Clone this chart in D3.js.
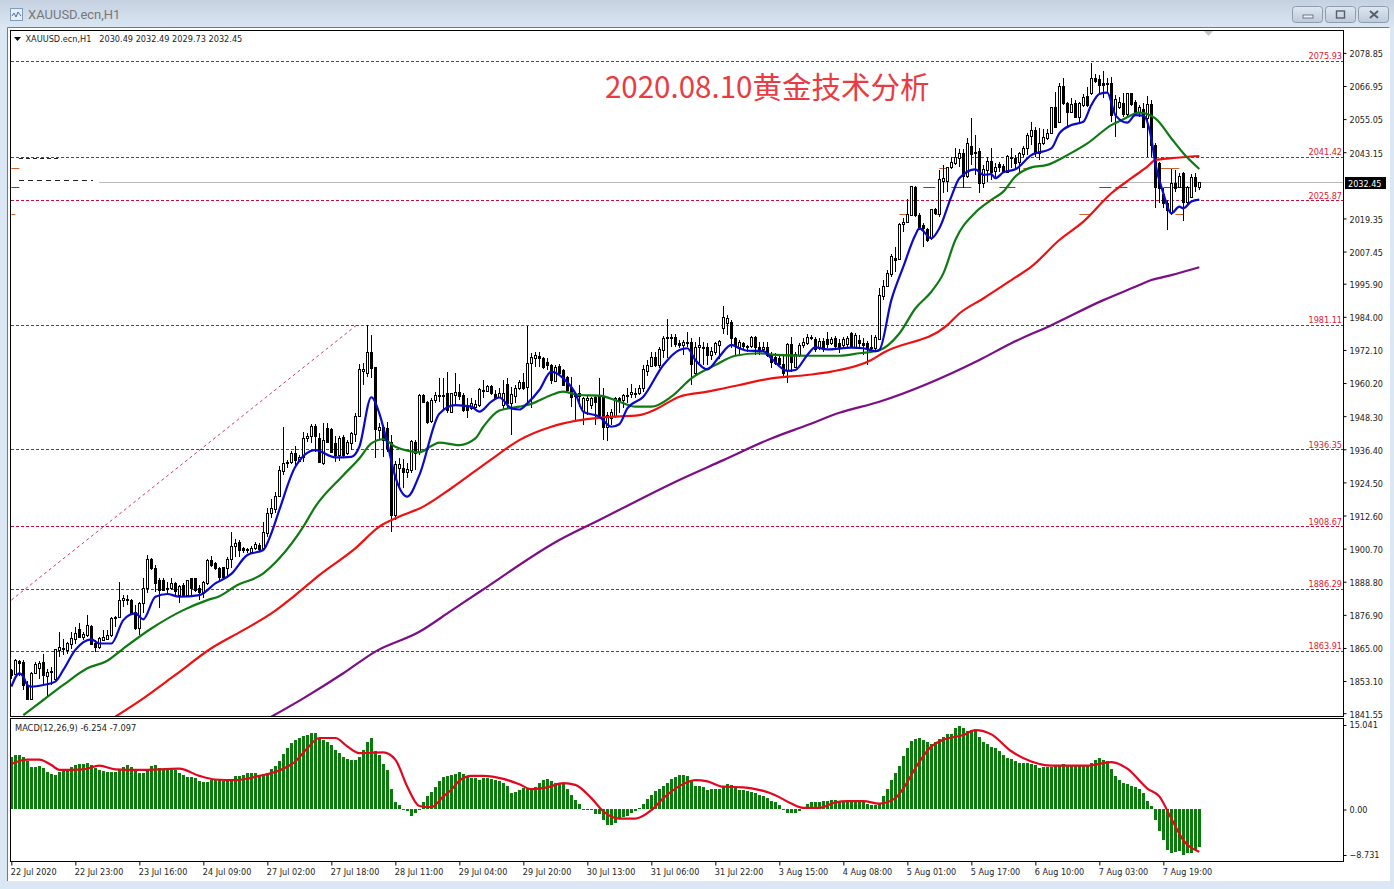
<!DOCTYPE html>
<html><head><meta charset="utf-8"><title>XAUUSD.ecn,H1</title>
<script src="https://cdn.jsdelivr.net/npm/d3@7"></script>
<style>html,body{margin:0;padding:0;background:#dbe7f4;overflow:hidden}svg{display:block}
text{font-family:"DejaVu Sans Condensed","DejaVu Sans",sans-serif}</style></head><body>
<svg id="c" width="1394" height="889"></svg>
<script>
// ---- data ----
const symbolHeader = "XAUUSD.ecn,H1   2030.49 2032.49 2029.73 2032.45";
const windowTitle = "XAUUSD.ecn,H1";
const chartTitle = "2020.08.10黄金技术分析";
const macdHeader = "MACD(12,26,9) -6.254 -7.097";
const lastPrice = 2032.45;
const opens = [1857,1855.8,1860.4,1859.8,1851.6,1846.5,1856,1857.7,1859.8,1854.9,
1856.3,1853.7,1864.3,1865.1,1864.3,1866.4,1868.1,1871.7,1869,1869.6,
1872.9,1866.9,1865.4,1868,1868.1,1869.6,1875.9,1876,1882.4,1882.5,
1882.2,1878,1872,1881,1886.4,1896.8,1893.6,1889.4,1889.4,1886.6,
1886.6,1888.2,1884,1887.6,1884,1890,1890,1886.4,1884.6,1888.2,
1896.6,1895.4,1893.6,1894,1893.6,1896.8,1901.8,1903.2,1900.8,1900.4,
1899.6,1901.1,1902,1901.1,1906.2,1913.4,1914.8,1919.7,1928.7,1931.6,
1932,1935,1932.3,1933.5,1940.3,1941.2,1944.8,1940.3,1931.6,1943.9,
1943.6,1938.8,1934.3,1940.7,1935,1938.8,1941.8,1948.3,1964.6,1963.9,
1971.5,1965.8,1943.3,1944.3,1943.9,1939.1,1912.8,1929.5,1929.5,1928.3,
1929,1939.1,1935.5,1955.9,1953.5,1946.7,1954.1,1955.7,1955.9,1956.5,
1949.9,1956,1957.1,1955.9,1952.3,1951.1,1951.5,1952.3,1957.5,1957.5,
1959.1,1956.2,1955.3,1952.3,1960,1952.9,1955.5,1958.3,1960.7,1958.9,
1967.3,1969.3,1969.9,1969.1,1967.9,1966.7,1961,1966.3,1964.9,1962.2,
1958.9,1956,1955.5,1950,1954.1,1952.3,1955.3,1955.9,1955.3,1944.5,
1947.5,1948.3,1954.7,1954.1,1955.9,1956.3,1956.3,1956.5,1958.3,1964.5,
1966.3,1969.7,1966.7,1972.1,1976.3,1976.6,1976.9,1974.7,1973.9,1974.9,
1975.1,1963.7,1973.3,1973.1,1973,1970.3,1971.5,1973.9,1979.9,1981.7,
1982,1976.3,1973.3,1974.5,1973.5,1973.5,1976.9,1973.1,1972.3,1973.2,
1970.5,1969.7,1969.1,1967,1964.9,1974.2,1966.1,1970.3,1973.9,1974.5,
1976.4,1975.9,1972.7,1975.4,1975.9,1974.7,1976.3,1974.7,1973.9,1974.2,
1978.1,1973.1,1975.5,1974.5,1974.7,1973.1,1972.7,1975.9,1991.5,1995,
1999.4,2005.3,2004.6,2017.3,2018.2,2020.6,2030.5,2020.6,2017,2015.4,
2012.2,2022.6,2020.9,2032.9,2032.9,2037.7,2039.2,2041,2043,2034.6,
2045.4,2043.3,2043.7,2032,2036.8,2040.1,2036.5,2038.8,2038.2,2036.2,
2041.5,2041,2039.8,2042.5,2044.5,2049,2051.1,2042.7,2046.3,2048.1,
2050.2,2059.3,2054.1,2066.9,2060.7,2057.7,2060.7,2055.9,2060.1,2063.3,
2064.3,2070,2069.3,2067.9,2067.9,2067.9,2056.9,2059.3,2060.9,2056.9,
2064.3,2061.3,2057.7,2058.6,2055.3,2060.5,2045.7,2039.1,2028.1,2024.8,
2021.2,2032,2030.5,2035.8,2025.4,2027.2,2034.1,2030.49];
const closes = [1855.3,1860.6,1859.7,1851.7,1846.5,1856.1,1859.1,1859.7,1855.3,1856.4,
1856.9,1864.5,1865.2,1864.5,1866.9,1868.4,1870.5,1869,1870,1873.2,
1866.6,1865.4,1868.4,1869,1869.6,1875.9,1876.2,1882.4,1882.8,1882.2,
1877.4,1872,1881.2,1886.4,1896.8,1893.6,1888.4,1886,1886,1886.4,
1888.2,1885.6,1887.2,1884,1889.4,1886.4,1885.8,1885.2,1888.6,1896.6,
1894.8,1893.6,1890.6,1890.6,1896.8,1901.7,1902.8,1900.2,1900.2,1900.2,
1901.1,1902.3,1900.4,1906.5,1913.6,1915.2,1919.7,1928.9,1931.6,1932,
1935,1932.5,1933.5,1940.3,1941.2,1944.8,1941.2,1931.9,1939.7,1939.1,
1935.5,1934.3,1940.3,1934.3,1939.1,1942.1,1948.3,1965.1,1965.1,1971.5,
1965.5,1943.6,1944.3,1939.7,1936.7,1912.8,1931.1,1931.1,1928.3,1929.2,
1939.5,1935.2,1955.9,1953.5,1946.3,1954.1,1955.9,1955.9,1955.4,1950.5,
1956.5,1957.1,1955.5,1950.5,1950.5,1952.9,1952.7,1958,1957.7,1959.1,
1956.5,1955,1956.5,1956.7,1952.9,1956.2,1958.3,1960.7,1958.3,1967.3,
1969.7,1970.3,1969.1,1965.8,1966.7,1961.3,1966,1963.7,1959.5,1957.7,
1955.3,1955.5,1956.5,1954.7,1955,1954.7,1953.5,1948.7,1944.5,1948.7,
1949.9,1954.7,1954.1,1955.9,1955.7,1957.1,1956.8,1958.3,1965.2,1966.7,
1969.7,1966.7,1972.3,1976.5,1976.9,1976.9,1974.1,1973.9,1975.1,1975.1,
1967,1973.3,1973.7,1973.2,1970.3,1971.7,1974.5,1975.3,1983.8,1983.5,
1976.3,1973.9,1975.1,1973.5,1973.1,1976.9,1973.1,1972.3,1973.2,1970.3,
1967.9,1967.5,1967,1963.7,1974.2,1967.9,1970.6,1973.9,1975.1,1976.6,
1976.6,1972.3,1975.4,1972.3,1974.1,1975.9,1973.5,1973.3,1975.9,1976.3,
1973.1,1977.5,1974.5,1973.9,1972.7,1972.9,1976.6,1991.8,1995,1999.9,
2005.8,2004.4,2017.3,2018.2,2021,2031,2020.6,2016.4,2015.8,2011.6,
2022.6,2021.2,2033.4,2033.8,2037.7,2039.8,2041.3,2042.7,2034.6,2046.6,
2042.5,2042.8,2032,2037,2040.1,2036.2,2038,2037.7,2036.2,2041.8,
2041,2039.4,2042.7,2044.5,2049.3,2051.1,2042.7,2046.3,2048.5,2050.2,
2059.3,2052.1,2066.9,2060.7,2057.7,2060.5,2055.9,2060.7,2063.1,2060.1,
2070,2068.9,2067.3,2067.3,2067.7,2056.5,2062.2,2061.3,2056.9,2064.3,
2060.5,2057.7,2059.3,2052.3,2060.5,2045.7,2030.8,2030.2,2024.8,2022.4,
2032,2030.2,2034.6,2025.4,2030.5,2034.1,2031,2032.45];
const highs = [1857.5,1860.9,1860.5,1860.7,1853,1856.2,1860,1860.4,1863,1857.6,
1858.2,1864.8,1870.6,1868.1,1867.3,1870.8,1872.6,1874.1,1870.8,1876.8,
1873.2,1867.8,1869,1871.4,1871.4,1876.2,1876.5,1888.8,1884,1884,
1882.5,1880.5,1881.6,1890,1898.4,1897.2,1894.8,1890,1890,1888.8,
1890.3,1888.8,1887.6,1888.2,1889.4,1890,1890.3,1887.6,1889,1896.8,
1898,1896,1894.2,1894.2,1897.6,1906.5,1904,1903.8,1901.4,1901.1,
1901.6,1902.9,1902.6,1910.4,1915.2,1918.7,1921.2,1930.4,1944.3,1932.5,
1935.9,1937.6,1934.4,1942.7,1942.1,1945.5,1945.5,1942.1,1945.7,1946,
1943.9,1941,1941,1941.4,1939.7,1942.7,1949.3,1967,1967.3,1981.1,
1977.5,1966,1945.7,1945.1,1946.3,1941.4,1932.3,1933.1,1932.8,1931.6,
1939.7,1939.7,1956.2,1956.2,1953.7,1955,1957.1,1961.9,1962,1964,
1956.8,1963.9,1960,1956.5,1954.7,1954.7,1954.1,1958.3,1961.3,1959.5,
1959.5,1957.7,1958.3,1961.3,1961.9,1958.9,1959.5,1961.3,1963.7,1980.8,
1971.1,1971.5,1971.5,1969.7,1969.1,1967,1966.7,1967,1965.2,1962.8,
1962.2,1957.1,1959.5,1955.1,1955.9,1955.3,1955.9,1961.9,1958.3,1949.9,
1950.7,1955.1,1955.3,1956.3,1958.3,1960,1958.3,1959.5,1966.7,1968.5,
1971.5,1971.5,1973.3,1977.1,1983.2,1977.8,1977.8,1975.7,1975.7,1978.4,
1976.3,1975,1976.9,1975,1974.5,1973,1975.1,1975.7,1987.9,1984.6,
1982.9,1976.9,1975.7,1975.1,1973.9,1977.1,1977.1,1975.1,1975,1975,
1971.5,1970.9,1970.3,1970.3,1974.7,1976.6,1971.3,1974.5,1976.3,1977.8,
1977.5,1976.9,1976.3,1976.3,1978.4,1976.9,1977.1,1975.9,1976.9,1977.1,
1978.7,1978.1,1977.5,1976.3,1975.3,1977.5,1977.3,1994.2,1997.2,2000.8,
2006.6,2009.2,2017.6,2019.4,2026.2,2031,2031,2021.2,2017.6,2015.8,
2022.6,2023,2036.7,2038.5,2038,2041.3,2044.5,2044.2,2044.2,2048.1,
2055.3,2049.3,2044.5,2038.5,2041.5,2044.5,2039.2,2039.8,2038.8,2042.2,
2044.5,2042.2,2043.3,2045.5,2050.2,2054.1,2052.3,2051.7,2051.4,2051.4,
2059.5,2064.9,2067.9,2069.7,2061.3,2062.5,2061.9,2061.3,2063.9,2066.7,
2075.3,2071.3,2070.9,2072.5,2070,2070.3,2063.7,2063,2064.3,2064.6,
2064.6,2062,2060.1,2060.7,2063.4,2061.9,2046.3,2039.7,2030.2,2026,
2037,2036.8,2035.8,2036.2,2031,2035.5,2035.8,2032.49];
const lows = [1853.7,1855.5,1855,1850,1846.5,1846.4,1855.5,1854,1851.7,1847.5,
1851.7,1853,1861.9,1862.4,1863,1864.8,1866.6,1868.4,1867.8,1869,
1866,1863.6,1864.8,1868,1867.8,1869,1872.6,1875.6,1879.8,1880.4,
1877,1871.4,1869.6,1877.4,1884.6,1893,1885.2,1879.2,1885.6,1884,
1885.8,1884,1881.2,1883.6,1883.6,1884,1885,1882.4,1883,1887.6,
1894.2,1893,1888.8,1889.4,1890.6,1893.6,1897.6,1897.6,1899.3,1899.3,
1899.3,1900.2,1900,1900.2,1905,1911.6,1913.4,1919.4,1927.2,1929.5,
1931.1,1930.7,1932,1932,1939.1,1938.5,1935.5,1931.3,1930.7,1938.5,
1935,1931.9,1932.3,1933.5,1934.3,1936.1,1939.1,1948.1,1959.5,1962.5,
1961.9,1933.1,1940,1933.5,1935.5,1906.8,1911,1922.4,1922.4,1925.9,
1927.7,1929,1934.3,1953,1945.5,1946,1952.9,1953.5,1950,1949.3,
1949.5,1952,1954,1949.9,1947.5,1950.5,1950.5,1951.5,1954.7,1957,
1956,1954,1954.7,1950.5,1951.1,1941.5,1952.9,1957.7,1957.7,1953.5,
1951.1,1966,1966,1965.2,1965,1960,1960.4,1963,1959,1956.5,
1951.5,1946.9,1951.7,1945.1,1948.7,1951,1945.1,1948.1,1939.7,1939.5,
1945.1,1947.5,1949.3,1951.1,1952.9,1954.7,1954.7,1955.9,1957.1,1962.8,
1966,1966,1965.5,1969.1,1969.1,1973.3,1973.3,1972.7,1970.3,1973.3,
1959.5,1963.1,1967.3,1966.7,1966.7,1968.5,1970.3,1969,1977.8,1977.4,
1972.7,1970.3,1970.3,1972.1,1971.5,1972.7,1970.3,1970.3,1971.5,1969.7,
1965.5,1966.7,1966,1962.5,1960.3,1964.3,1965.5,1969.7,1972.7,1973.9,
1975.7,1971.5,1972.1,1971.5,1972.7,1973.9,1972.7,1970.9,1972.7,1973.3,
1972.7,1972.7,1973.3,1970.3,1966.7,1972.1,1971.5,1975.7,1990,1994.8,
1998.4,2000.2,2004.4,2014.6,2017.6,2020.3,2020,2015.2,2009.2,2011,
2011.6,2020.6,2020,2028.4,2029,2037,2038.6,2038,2030.2,2033.8,
2038.5,2035,2028.6,2030.2,2032.6,2033.2,2034.4,2036.2,2035.6,2035.8,
2037.4,2036.8,2036.2,2041.5,2042.1,2045.7,2041.3,2040.4,2045.7,2047.5,
2049.9,2051.7,2053.5,2060.1,2052.3,2057.1,2055.3,2054.1,2059.5,2059.5,
2063.7,2067.9,2063.7,2062.5,2064.3,2054.1,2048.7,2058.7,2055.9,2056.3,
2059.9,2056.9,2055.9,2051.7,2041.5,2041.5,2023,2024.8,2023,2015.2,
2020.6,2029,2030.2,2018.5,2024.5,2026.6,2029,2029.73];
// moving averages: [bar, price] pairs
const blueMA = [[0,1851.1],[2,1855.9],[3,1854.7],[4,1851.7],[5,1851.1],[8,1851.7],[11,1852.9],[13,1857.1],[16,1864.3],[20,1868.1],[22,1866.6],[25,1866.6],[28,1875],[31,1877.4],[33,1875.3],[36,1883.4],[39,1884.4],[42,1883.4],[47,1884],[51,1888.2],[55,1891.6],[59,1898.4],[63,1900.2],[65,1906.2],[67,1914.6],[71,1930.1],[76,1936.1],[81,1933.5],[85,1933.7],[87,1937.3],[90,1955.1],[92,1949.3],[94,1938.5],[96,1926.5],[99,1919.4],[102,1927.1],[107,1949.2],[111,1952.3],[115,1951.7],[117,1949.9],[120,1953.5],[122,1955],[125,1951.1],[127,1950.7],[129,1952.9],[132,1957.7],[135,1964.3],[138,1961.9],[141,1956.5],[143,1949.9],[147,1948.1],[150,1944.5],[152,1945.4],[154,1951.1],[158,1955.3],[163,1966.7],[167,1972.1],[169,1972.7],[171,1968.5],[174,1965.1],[177,1969.7],[180,1973.9],[182,1972.7],[184,1971.8],[188,1971.7],[190,1969.1],[194,1964.6],[196,1964.9],[199,1970.3],[201,1973],[204,1972.3],[210,1972.9],[213,1972.7],[216,1971.7],[217,1972.1],[220,1990],[223,2002],[226,2013.4],[227,2015.8],[230,2012.2],[232,2015.8],[235,2027.2],[237,2033.8],[241,2037],[243,2035],[245,2035.3],[246,2033.8],[248,2035.9],[251,2037],[255,2042.1],[260,2044.5],[262,2049.9],[265,2052.9],[268,2054.1],[270,2060.1],[272,2064.1],[274,2064.6],[276,2056.5],[279,2053.8],[281,2056.5],[283,2056.3],[285,2048.1],[286,2039.1],[288,2028.4],[290,2021.2],[292,2023.6],[293,2023],[295,2025.4],[297,2026.1]];
const greenMA = [[3,1840.9],[8,1846.3],[13,1851.7],[19,1857.7],[24,1860.4],[28,1864.8],[35,1872],[43,1878.6],[49,1882.2],[52,1883.6],[56,1887.2],[63,1891.8],[67,1897.2],[73,1908.6],[76,1915.8],[83,1927.1],[87,1933.1],[90,1938.5],[93,1940],[96,1937.3],[99,1935.9],[102,1935.3],[105,1937.6],[107,1938.8],[112,1937.9],[116,1940.3],[118,1944.5],[122,1950.3],[127,1951.7],[130,1952.7],[135,1955.9],[138,1957.1],[142,1955.9],[147,1955.7],[152,1953.5],[156,1951.7],[160,1951.7],[165,1955.3],[170,1961.9],[176,1966.7],[181,1970],[187,1970.9],[191,1970.3],[199,1970],[207,1970],[212,1970.9],[217,1972],[222,1978],[226,1987],[230,1993],[233,1999.6],[236,2011.6],[241,2021.5],[245,2026],[248,2029],[251,2034.4],[255,2037.7],[259,2038.6],[264,2042.1],[269,2046.3],[275,2052.9],[278,2055],[282,2057.4],[286,2055.3],[290,2048.1],[293,2042.8],[297,2037.1]];
const redMA = [[26,1840.3],[33,1846.9],[41,1855.3],[50,1864.9],[58,1871.4],[65,1877.4],[71,1884],[77,1891.2],[86,1900.8],[92,1908.6],[97,1912.2],[103,1915.8],[110,1922.4],[120,1932.8],[127,1939.7],[135,1944.5],[141,1946.6],[148,1947.9],[157,1948.7],[161,1950.7],[167,1955.3],[174,1957.1],[182,1959.5],[190,1961.9],[199,1963.1],[205,1964.3],[215,1968.5],[218,1971.1],[234,1981],[237,1985.2],[243,1990.6],[250,1997.2],[255,2002],[262,2011.6],[268,2018.2],[275,2028.4],[280,2033.8],[284,2038],[286,2040.3],[290,2041],[297,2041.8]];
const purpleMA = [[65,1840.3],[73,1846.9],[83,1855.9],[91,1863.7],[102,1870.8],[110,1878.4],[117,1885.1],[137,1903.8],[147,1911],[167,1925.4],[178,1932.5],[190,1940.3],[199,1945.1],[207,1949.5],[217,1953.5],[242,1968.5],[250,1974.5],[260,1981],[273,1990],[281,1994.8],[285,1997.2],[290,1999],[297,2001.8]];
const levelLines = [2075.93,2041.42,2025.87,1981.11,1936.35,1908.67,1886.29,1863.91];
const trendLine = [[0,1882.2],[86.4,1981.11]];
const priceTicks = [2078.85,2066.95,2055.05,2043.15,2019.35,2007.45,1995.90,1984.00,1972.10,1960.20,1948.30,1936.40,1924.50,1912.60,1900.70,1888.80,1876.90,1865.00,1853.10,1841.55];
const timeTicks = ["22 Jul 2020","22 Jul 23:00","23 Jul 16:00","24 Jul 09:00","27 Jul 02:00","27 Jul 18:00","28 Jul 11:00","29 Jul 04:00","29 Jul 20:00","30 Jul 13:00","31 Jul 06:00","31 Jul 22:00","3 Aug 15:00","4 Aug 08:00","5 Aug 01:00","5 Aug 17:00","6 Aug 10:00","7 Aug 03:00","7 Aug 19:00"];
const macdHist = [8.7,8.9,8.9,8.6,8,7,7,7.2,6.8,6.2,
5.8,5.7,6.1,6.3,6.5,6.9,7.3,7.4,7.5,7.6,
7.3,6.8,6.5,6.3,6.2,6.2,6.2,6.7,7,7.3,
6.9,6.5,5.9,6,6.5,7.1,7.3,6.8,6.7,6.6,
6.5,6.4,5.9,5.6,5.3,5.3,5.1,4.7,4.5,4.5,
4.8,4.8,4.8,4.7,4.7,4.8,5.4,5.5,5.7,5.9,
6,6,5.7,5.8,5.9,6.6,7.2,8,9.2,10.1,
10.9,11.5,11.8,12.1,12.3,12.7,12.7,11.8,11.4,11.1,
10.7,9.8,9.3,8.7,8.3,8.2,8.2,8.6,9.8,11.1,
11.8,9.7,9,7.5,6.5,3.3,1.2,0.6,-0.1,-0.4,
-1.1,-0.7,-0.2,1.1,2.2,2.8,3.6,4.7,5.3,5.5,
5.6,5.8,6.1,5.8,5.3,5.2,5.1,4.9,5.1,5.1,
5,4.8,4.6,4.4,3.8,2.7,2.9,3.2,3.5,3.4,
3.2,3.7,4.4,4.8,5,4.7,4.4,4.4,4.1,3.3,
2.4,1.5,0.9,-0.1,-0.2,-0.2,-0.8,-0.9,-1.8,-2.6,
-2.6,-2.3,-1.7,-1.4,-1.2,-0.7,-0.3,0.2,0.8,1.7,
2.4,3,3.4,3.9,4.3,5,5.3,5.7,5.6,5.4,
4.7,3.9,3.9,3.6,3.2,3.3,3.3,3.3,3.6,4.1,
4,3.6,3.2,3.1,3,2.8,2.6,2.3,2.2,1.9,
1.4,1.1,0.7,-0.1,-0.6,-0.7,-0.6,-0.3,0.2,0.8,
1.1,1.2,1.2,1.3,1.4,1.5,1.5,1.3,1.3,1.3,
1.3,1.3,1.3,1.3,0.8,0.7,0.6,0.9,2.2,3.3,
4.8,5.9,7.2,8.8,10.2,11.3,11.7,11.8,11.4,11.1,
10.8,11.2,11.6,11.9,12.4,12.5,13.5,13.8,13.4,13,
13.1,13.1,11.9,11.1,10.8,10.3,10.1,9.7,9,8.4,
8.3,7.9,7.6,7.6,7.6,7.5,7.3,6.8,6.9,6.9,
6.9,7.1,7.2,7.4,7.3,7.2,7.2,7.2,7.2,7.3,
7.7,8.2,8.4,8.1,7.9,6.7,5.5,4.8,4.3,4.2,
3.9,3.7,3.4,2.7,1.4,0.5,-1.9,-3.6,-5.2,-6.8,
-7.4,-7.1,-7,-7.6,-7.4,-7.3,-6.8,-6.254];
const macdSignal = [[0,7.5],[4,8.2],[7,8.2],[10,7.3],[12,6.5],[18,6.6],[22,7.2],[26,6.6],[32,6.5],[42,6.7],[47,5.5],[51,4.9],[56,4.8],[62,5.5],[67,6.4],[71,7.9],[74,10.1],[77,11.8],[81,11.8],[84,10.4],[87,9.3],[93,9.4],[96,8.2],[99,3.7],[102,0.5],[105,0.3],[108,2.1],[110,3.2],[112,4.7],[115,5.5],[118,5.5],[123,5],[127,4.1],[130,3.3],[134,3.6],[138,4.3],[141,4],[145,1.8],[148,-0.4],[152,-1.6],[156,-1.6],[160,-0.2],[163,1.8],[167,3.8],[171,4.8],[174,4.6],[178,3.7],[183,3.6],[186,3.3],[188,3],[191,2.3],[195,0.9],[198,0.2],[202,0.2],[206,1.1],[209,1.3],[213,1.3],[217,0.9],[221,1.8],[223,3.4],[226,6.8],[230,10.4],[233,11.5],[238,12.3],[241,13.1],[245,12.4],[250,9.6],[255,7.9],[260,7.2],[269,7.2],[275,7.8],[279,6.7],[284,3.4],[287,2.1],[290,-1.6],[293,-5.2],[297,-7.097]];
const macdTicks = [15.041,0,-8.731];
// short pivot fragments: [price, fromBar, toBar, colourIndex]
const pivotDashes = [[2037.3,0,2,0],[2030.5,0,2,1],[2020.95,0,1,0],
[2030.5,228,231,1],[2030.5,235,240,1],[2030.5,247,251,1],[2030.5,272,275,1],[2030.5,276,279,1],[2030.5,288,295,1],
[2037.3,232,234,0],[2037.3,253,255,0],[2037.3,287,292,0],
[2020.95,222,224,0],[2020.95,231,232,0],[2020.95,267,270,0],[2020.95,291,293,0]];
const pivotColors = ["#c9642d","#1d6b4a"];

// ---- layout ----
const svg = d3.select("#c");
const L=10.5, R=1343.5, T=30.5, B=716.5, MT=718.5, MB=861.5;
const x = d3.scaleLinear().domain([0,333]).range([11.33,1343.33]);
const y = d3.scaleLinear().domain([1840.37,2086.89]).range([B,T]);
const my = d3.scaleLinear().domain([-8.731,15.041]).range([MB,MT]);
const myLabel = d3.scaleLinear().domain([-8.731,0,15.041]).range([855,809.5,725]);
const px = i=>Math.floor(x(i));
const FONT='"DejaVu Sans Condensed","DejaVu Sans",sans-serif';
const SMALL=9;

const defs = svg.append("defs");
const g1 = defs.append("linearGradient").attr("id","tb").attr("x1",0).attr("x2",0).attr("y1",0).attr("y2",1);
g1.append("stop").attr("offset",0).attr("stop-color","#c5d1e0");
g1.append("stop").attr("offset",1).attr("stop-color","#dbe6f3");
const g2 = defs.append("linearGradient").attr("id","btn").attr("x1",0).attr("x2",0).attr("y1",0).attr("y2",1);
g2.append("stop").attr("offset",0).attr("stop-color","#dfe7f0");
g2.append("stop").attr("offset",1).attr("stop-color","#bccadb");
defs.append("clipPath").attr("id","mainClip").append("rect").attr("x",L+.5).attr("y",T).attr("width",R-L-.5).attr("height",B-T);
defs.append("clipPath").attr("id","macdClip").append("rect").attr("x",L+.5).attr("y",MT).attr("width",R-L-.5).attr("height",MB-MT);

// window chrome
svg.append("rect").attr("width",1394).attr("height",889).attr("fill","#dbe7f4");
svg.append("rect").attr("width",1394).attr("height",27).attr("fill","url(#tb)");
svg.append("rect").attr("x",7).attr("y",27).attr("width",1383).attr("height",854).attr("fill","#ffffff");
svg.append("path").attr("d","M7.5,881V27.5H1389.5").attr("fill","none").attr("stroke","#6f7a86");
const ic = svg.append("g").attr("transform","translate(10,8)");
ic.append("rect").attr("x",.5).attr("y",.5).attr("width",12).attr("height",12).attr("fill","#e7eef7").attr("stroke","#7f9cc0");
ic.append("path").attr("d","M2,8L4,5L6,9L8,4L11,8").attr("fill","none").attr("stroke","#4a6f9f");
svg.append("text").attr("x",28).attr("y",19).attr("font-size",13).attr("fill","#777").style("font-family","Roboto,sans-serif").text(windowTitle);
[[1293,"min"],[1326,"max"],[1359,"close"]].forEach(([bx,k])=>{
  svg.append("rect").attr("x",bx-.5).attr("y",6.5).attr("width",30).attr("height",16).attr("rx",3).attr("fill","url(#btn)").attr("stroke","#8e9cae");
  if(k==="min") svg.append("rect").attr("x",bx+10).attr("y",15).attr("width",10).attr("height",3).attr("fill","#eef2f6").attr("stroke","#55606e").attr("stroke-width",.8);
  if(k==="max") svg.append("rect").attr("x",bx+10.5).attr("y",11).attr("width",8).attr("height",7).attr("fill","none").attr("stroke","#55606e").attr("stroke-width",1.4);
  if(k==="close") svg.append("path").attr("d",`M${bx+11},11L${bx+19},18M${bx+19},11L${bx+11},18`).attr("stroke","#55606e").attr("stroke-width",2);
});

// main panel
const main = svg.append("g").attr("clip-path","url(#mainClip)");
// level lines
main.selectAll("line.lvl").data(levelLines).join("line").attr("class","lvl")
  .attr("x1",11).attr("x2",1343).attr("y1",d=>Math.round(y(d))+.5).attr("y2",d=>Math.round(y(d))+.5)
  .attr("stroke","#c4103a").attr("stroke-dasharray","3,2").attr("shape-rendering","crispEdges");
// current price line
main.append("line").attr("x1",x(22)).attr("x2",R).attr("y1",Math.round(y(lastPrice))+.5).attr("y2",Math.round(y(lastPrice))+.5).attr("stroke","#b8b8b8");
// trend line
main.append("line").attr("x1",x(trendLine[0][0])).attr("y1",y(trendLine[0][1])).attr("x2",x(trendLine[1][0])).attr("y2",y(trendLine[1][1]))
  .attr("stroke","#c8204a").attr("stroke-width",.9).attr("stroke-dasharray","3,3");
// pivot fragments
main.selectAll("line.piv").data(pivotDashes).join("line").attr("class","piv")
  .attr("x1",d=>x(d[1])).attr("x2",d=>x(d[2])).attr("y1",d=>Math.round(y(d[0]))+.5).attr("y2",d=>Math.round(y(d[0]))+.5)
  .attr("stroke",d=>pivotColors[d[3]]);
// candles
const idx = d3.range(opens.length);
main.selectAll("rect.w").data(idx).join("rect").attr("class","w")
  .attr("x",px).attr("width",1).attr("y",i=>Math.round(y(highs[i]))).attr("height",i=>Math.max(1,Math.round(y(lows[i]))-Math.round(y(highs[i]))))
  .attr("fill","#000").attr("shape-rendering","crispEdges");
main.selectAll("rect.b").data(idx).join("rect").attr("class","b")
  .attr("x",i=>px(i)-.5).attr("width",2)
  .attr("y",i=>Math.round(y(Math.max(opens[i],closes[i])))+.5)
  .attr("height",i=>Math.max(1,Math.round(y(Math.min(opens[i],closes[i])))-Math.round(y(Math.max(opens[i],closes[i])))))
  .attr("fill",i=>closes[i]>=opens[i]?"#fff":"#000").attr("stroke","#000").attr("shape-rendering","crispEdges");
// moving averages
const maLine = d3.line().x(d=>x(d[0])).y(d=>y(d[1])).curve(d3.curveMonotoneX);
[[purpleMA,"#7c0f86"],[redMA,"#ee1111"],[greenMA,"#0f7a12"],[blueMA,"#0a0acb"]].forEach(([s,c])=>{
  main.append("path").attr("d",maLine(s)).attr("fill","none").attr("stroke",c).attr("stroke-width",2.2).attr("stroke-linejoin","round");
});
// left-edge label remnants
main.append("line").attr("x1",19).attr("x2",60).attr("y1",158.5).attr("y2",158.5).attr("stroke","#222").attr("stroke-dasharray","4,3");
main.append("line").attr("x1",19).attr("x2",93).attr("y1",180.5).attr("y2",180.5).attr("stroke","#222").attr("stroke-dasharray","5,4");
// chart title
svg.append("text").attr("x",605).attr("y",97.5).attr("font-size",29.5).attr("fill","#ea3b42").style("font-family",'"Noto Sans CJK SC",sans-serif').text(chartTitle);
// header
svg.append("path").attr("d","M14,37H21L17.5,41Z").attr("fill","#000");
svg.append("text").attr("x",25.5).attr("y",41.5).attr("font-size",9.1).attr("fill","#222").style("white-space","pre").text(symbolHeader);
svg.append("path").attr("d","M1204,31H1213L1208.5,36Z").attr("fill","#c4c4c4");

// macd panel
const macd = svg.append("g").attr("clip-path","url(#macdClip)");
macd.selectAll("rect").data(idx).join("rect")
  .attr("x",i=>px(i)-1).attr("width",3)
  .attr("y",i=>Math.round(my(Math.max(0,macdHist[i]))))
  .attr("height",i=>Math.max(1,Math.abs(Math.round(my(macdHist[i]))-Math.round(my(0)))))
  .attr("fill","#0c7a0c").attr("shape-rendering","crispEdges");
macd.append("path").attr("d",maLine.y(d=>my(d[1]))(macdSignal)).attr("fill","none").attr("stroke","#e2061e").attr("stroke-width",2.2);
svg.append("text").attr("x",15).attr("y",731).attr("font-size",9.2).attr("fill","#222").text(macdHeader);

// frames
const frame = (x0,y0,x1,y1)=>svg.append("rect").attr("x",x0).attr("y",y0).attr("width",x1-x0).attr("height",y1-y0).attr("fill","none").attr("stroke","#000");
frame(L,T,R,B); frame(L,MT,R,MB);

// axes
function styleAxis(g){ g.select(".domain").remove(); g.selectAll("line").attr("stroke","#000");
  g.selectAll("text").attr("fill","#222").attr("font-size",SMALL).style("font-family",FONT); }
svg.append("g").attr("transform",`translate(${R},0)`)
  .call(d3.axisRight(y).tickValues(priceTicks).tickSize(3).tickPadding(3).tickFormat(d3.format(".2f"))).call(styleAxis)
  .selectAll("text").attr("y",1);
svg.append("g").attr("transform",`translate(${R},0)`)
  .call(d3.axisRight(myLabel).tickValues(macdTicks).tickSize(3).tickPadding(3).tickFormat(d=>d===0?"0.00":d3.format(".3f")(d))).call(styleAxis);
const xTickIdx = timeTicks.map((_,i)=>i*16);
svg.append("g").attr("transform",`translate(0,${MB})`)
  .call(d3.axisBottom(x).tickValues(xTickIdx).tickSize(4).tickPadding(3).tickFormat((d,i)=>timeTicks[i])).call(styleAxis)
  .selectAll("text").attr("text-anchor","start").attr("dx",-1);
// level labels
svg.selectAll("text.lvl").data(levelLines).join("text").attr("class","lvl")
  .attr("x",1342).attr("y",d=>y(d)-1.7).attr("text-anchor","end").attr("font-size",SMALL).attr("fill","#e0182f").text(d=>d3.format(".2f")(d));
// last price tag
svg.append("rect").attr("x",1345).attr("y",177).attr("width",41).attr("height",12).attr("fill","#000");
svg.append("text").attr("x",1348).attr("y",186.5).attr("font-size",SMALL).attr("fill","#fff").text(d3.format(".2f")(lastPrice));
</script></body></html>
